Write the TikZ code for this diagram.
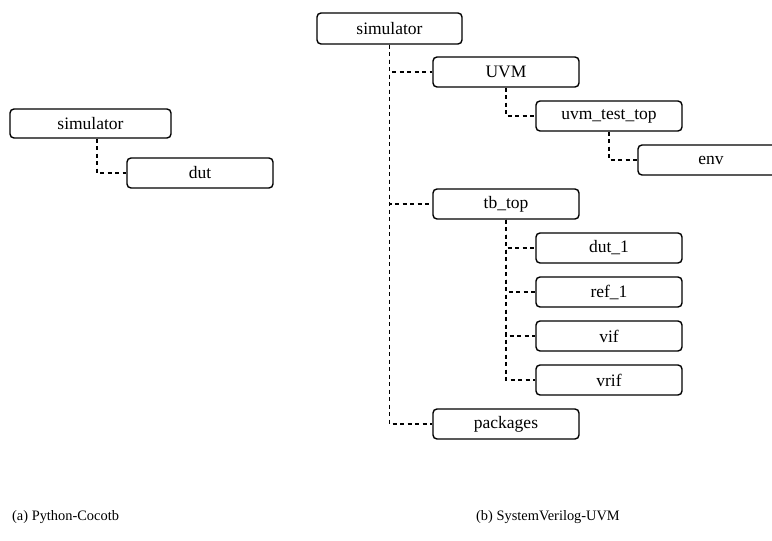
\documentclass[tikz,border=0pt]{standalone}
\usepackage{fontspec}
\setmainfont{Liberation Serif}
\begin{document}
\begin{tikzpicture}[x=1pt,y=-1pt,
  box/.style={draw=black, line width=1.4pt, rounded corners=4pt, minimum width=146pt, minimum height=30pt, inner sep=0pt, font=\fontsize{17.5}{20}\selectfont},
  conn/.style={draw=black, line width=1.1pt, dash pattern=on 4pt off 3.5pt},
  captext/.style={anchor=west, inner sep=0pt, font=\fontsize{14.4}{16}\selectfont}]
\clip (0,0) rectangle (772,541);
% (a)
\node[box, minimum width=161pt, minimum height=29pt] (simA) at (90.5,123.5) {simulator};
\node[box] (dut) at (200,173) {dut};
\draw[conn] (simA.south) ++(6.5,0) |- (dut.west);
% (b)
\node[box, minimum width=145pt, minimum height=31pt] (simB) at (389.5,28.5) {simulator};
\node[box] (uvm) at (506,72) {UVM};
\node[box] (utt) at (609,116) {uvm\_test\_top};
\node[box] (env) at (711,160) {env};
\node[box] (tbtop) at (506,204) {tb\_top};
\node[box] (dut1) at (609,248) {dut\_1};
\node[box] (ref1) at (609,292) {ref\_1};
\node[box] (vif) at (609,336) {vif};
\node[box] (vrif) at (609,380) {vrif};
\node[box] (pkg) at (506,424) {packages};
\draw[conn] (simB.south) |- (uvm.west);
\draw[conn] (simB.south) |- (tbtop.west);
\draw[conn] (simB.south) |- (pkg.west);
\draw[conn] (uvm.south) |- (utt.west);
\draw[conn] (utt.south) |- (env.west);
\draw[conn] (tbtop.south) |- (dut1.west);
\draw[conn] (tbtop.south) |- (ref1.west);
\draw[conn] (tbtop.south) |- (vif.west);
\draw[conn] (tbtop.south) |- (vrif.west);
% captions
\node[captext] (capa) at (12,517) {(a) Python-Cocotb};
\node[captext] (capb) at (476,517) {(b) SystemVerilog-UVM};
\end{tikzpicture}
\end{document}
